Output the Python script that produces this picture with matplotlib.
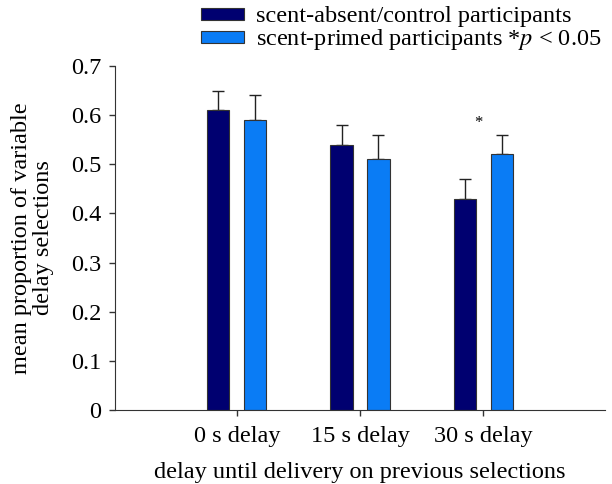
import matplotlib
matplotlib.use("Agg")
import matplotlib.pyplot as plt
import numpy as np

categories = ["0 s delay", "15 s delay", "30 s delay"]
control_means = [0.61, 0.54, 0.43]
control_err = [0.04, 0.04, 0.04]
primed_means = [0.59, 0.51, 0.52]
primed_err = [0.05, 0.05, 0.04]
yticks = [0, 0.1, 0.2, 0.3, 0.4, 0.5, 0.6, 0.7]
ytick_labels = ["0", "0.1", "0.2", "0.3", "0.4", "0.5", "0.6", "0.7"]

plt.rcParams['font.family'] = ['Liberation Serif', 'DejaVu Serif']
plt.rcParams['mathtext.fontset'] = 'stix'

FS = 17.5
fig = plt.figure(figsize=(6.12, 4.84), dpi=100)
ax = fig.add_axes([115/612, 74/484, 490/612, 344/484])

x = np.arange(len(categories))
w = 0.18
off = 0.15
dark = "#000070"
light = "#0a7cf5"
b1 = ax.bar(x - off, control_means, w, color=dark, edgecolor="#333333", linewidth=0.8,
            label="scent-absent/control participants", zorder=2)
b2 = ax.bar(x + off, primed_means, w, color=light, edgecolor="#333333", linewidth=0.8,
            label=r"scent-primed participants *$p$ < 0.05", zorder=2)
ax.errorbar(x - off, control_means, yerr=[[0]*3, control_err], fmt="none", ecolor="#222222",
            elinewidth=1, capsize=4, capthick=1, zorder=1)
ax.errorbar(x + off, primed_means, yerr=[[0]*3, primed_err], fmt="none", ecolor="#222222",
            elinewidth=1, capsize=4, capthick=1, zorder=1)
ax.text(2 - 0.04, 0.585, "*", ha="center", va="center", fontsize=12)

ax.set_xlim(-0.99, 2.99)
ax.set_ylim(0, 0.7)
ax.set_xticks(x)
ax.set_xticklabels(categories, fontsize=FS)
ax.set_yticks(yticks)
ax.set_yticklabels(ytick_labels, fontsize=FS)
ax.tick_params(direction="out", length=4, width=1, color="#333333")
ax.tick_params(axis="y", pad=6)
ax.tick_params(axis="x", pad=7.5)
for s in ["top", "right"]:
    ax.spines[s].set_visible(False)
for s in ["left", "bottom"]:
    ax.spines[s].set_color("#333333")
ax.set_xlabel("delay until delivery on previous selections", fontsize=FS, labelpad=10.5)
ax.set_ylabel("mean proportion of variable\ndelay selections", fontsize=FS, labelpad=12,
              linespacing=1.05)

fig.legend(handles=[b1, b2], loc="upper left", bbox_to_anchor=(184/612, 1.022), frameon=False,
           fontsize=FS, handlelength=1.75, handleheight=0.4, handletextpad=0.5,
           labelspacing=0.0, borderpad=0.2)

fig.savefig("out.png", dpi=100)
